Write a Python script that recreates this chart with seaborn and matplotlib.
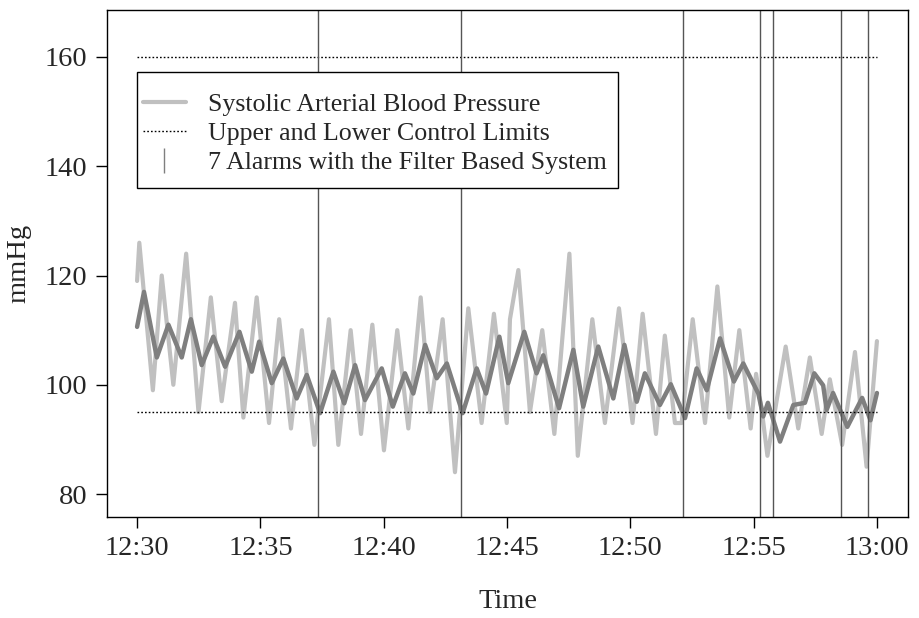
import matplotlib
matplotlib.use("Agg")
import matplotlib.pyplot as plt
from matplotlib.lines import Line2D
from matplotlib.patches import Rectangle
import seaborn as sns
import pandas as pd

# minutes after 12:30 and systolic pressure (mmHg)
sbp_min = [0.0, 0.09, 0.64, 1.00, 1.47, 1.99, 2.49, 2.99, 3.43, 3.97, 4.31, 4.85,
           5.35, 5.76, 6.24, 6.68, 7.19, 7.78, 8.16, 8.66, 9.08, 9.54, 10.01, 10.55,
           11.00, 11.50, 11.88, 12.39, 12.89, 13.43, 13.97, 14.47, 14.99, 15.12, 15.46,
           15.93, 16.43, 16.92, 17.53, 17.87, 18.46, 18.97, 19.54, 20.09, 20.50, 21.04,
           21.40, 21.81, 22.08, 22.53, 23.03, 23.53, 24.01, 24.42, 24.88, 25.10, 25.34,
           25.56, 26.30, 26.81, 27.28, 27.76, 28.09, 28.59, 29.11, 29.58, 30.0]
sbp_val = [119, 126, 99, 120, 100, 124, 95, 116, 97, 115, 94, 116,
           93, 112, 92, 110, 89, 112, 89, 110, 91, 111, 88, 110,
           92, 116, 95, 112, 84, 114, 93, 113, 93, 112, 121,
           95, 110, 91, 124, 87, 112, 93, 114, 93, 113, 91,
           109, 93, 93, 112, 93, 118, 94, 110, 92, 102, 95,
           87, 107, 92, 105, 91, 101, 89, 106, 85, 108]

# filtered signal
filt_min = [0.0, 0.28, 0.80, 1.27, 1.81, 2.18, 2.62, 3.09, 3.57, 4.15, 4.65, 4.95,
            5.46, 5.93, 6.47, 6.88, 7.42, 7.96, 8.40, 8.84, 9.24, 9.92, 10.37, 10.86,
            11.20, 11.68, 12.15, 12.56, 13.20, 13.77, 14.15, 14.69, 15.05, 15.70, 16.20,
            16.47, 17.11, 17.69, 18.09, 18.70, 19.31, 19.76, 20.26, 20.59, 21.20, 21.64,
            22.22, 22.69, 23.10, 23.64, 24.20, 24.58, 25.19, 25.39, 25.58, 26.07, 26.61,
            27.08, 27.46, 27.82, 27.96, 28.22, 28.80, 29.40, 29.74, 30.0]
filt_val = [110.6, 117, 105, 111, 105, 112, 103.6, 108.8, 103.3, 109.7, 102.4, 107.9,
            100.3, 104.8, 97.5, 101.8, 94.8, 102.4, 96.6, 103.6, 97.2, 103, 96, 102.1,
            98.4, 107.3, 101.2, 103.9, 94.8, 103, 98.4, 108.8, 100.3, 109.7, 102.1,
            105.4, 95.7, 106.4, 96, 107, 97.5, 107.3, 96.9, 102.1, 96.3, 100.1,
            93.9, 103, 99, 108.5, 100.6, 103.9, 98.4, 94.2, 96.7, 89.6, 96.3,
            96.7, 102.1, 99.9, 95.4, 98.5, 92.3, 97.6, 93.5, 98.5]

alarm_min = [7.34, 13.13, 22.13, 25.25, 25.78, 28.54, 29.63]
upper_limit = 160
lower_limit = 95
tick_min = [0, 5, 10, 15, 20, 25, 30]
tick_labels = ["12:30", "12:35", "12:40", "12:45", "12:50", "12:55", "13:00"]

sns.set_theme(style="ticks")
plt.rcParams["font.family"] = ["Liberation Serif", "DejaVu Serif"]

fig = plt.figure(figsize=(9.2, 6.18), dpi=100)
ax = fig.add_axes([107 / 920, 1 - 517 / 618, 801 / 920, 507 / 618])

df_sbp = pd.DataFrame({"t": sbp_min, "v": sbp_val})
df_f = pd.DataFrame({"t": filt_min, "v": filt_val})

sns.lineplot(data=df_sbp, x="t", y="v", ax=ax, color="#c0c0c0", lw=3,
             estimator=None, sort=False)
sns.lineplot(data=df_f, x="t", y="v", ax=ax, color="#7f7f7f", lw=3.2,
             estimator=None, sort=False)

for lim in (upper_limit, lower_limit):
    ax.plot([tick_min[0], tick_min[-1]], [lim, lim], color="black", lw=1,
            ls=(0, (1.2, 1.5)))
for a in alarm_min:
    ax.axvline(a, color="#555555", lw=1)

ax.set_xlim(-1.22, 31.26)
ax.set_ylim(75.8, 168.6)
ax.set_xticks(tick_min)
ax.set_xticklabels(tick_labels)
ax.set_yticks([80, 100, 120, 140, 160])
ax.tick_params(axis="both", labelsize=20.5, length=8, width=1, color="black",
               direction="out", pad=6)
for s in ax.spines.values():
    s.set_color("black")
    s.set_linewidth(1)
ax.set_xlabel("Time", fontsize=20.5, labelpad=20)
ax.set_ylabel("mmHg", fontsize=20.5, labelpad=10)

# legend box
ax.add_patch(Rectangle((30 / 801, (517 - 188) / 507), 481 / 801, 116 / 507,
                       transform=ax.transAxes, facecolor="white",
                       edgecolor="black", lw=1, zorder=4))
handles = [Line2D([], [], color="#c0c0c0", lw=3),
           Line2D([], [], color="black", lw=1, ls=(0, (1.2, 1.5))),
           Line2D([], [], color="#7f7f7f", lw=0, marker="|", markersize=18,
                  markeredgewidth=1)]
labels = ["Systolic Arterial Blood Pressure", "Upper and Lower Control Limits",
          "7 Alarms with the Filter Based System"]
leg = ax.legend(handles, labels, loc="upper left",
                bbox_to_anchor=(36 / 801, (517 - 93) / 507), fontsize=18.6,
                frameon=False, handlelength=1.65, handletextpad=0.88,
                labelspacing=0.22, borderpad=0, borderaxespad=0)
leg.set_zorder(5)

fig.savefig("out.png", dpi=100)
